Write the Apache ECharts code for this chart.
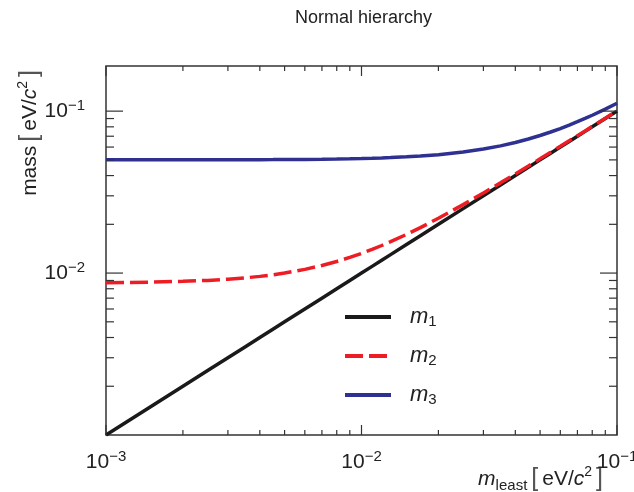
<!DOCTYPE html>
<html><head><meta charset="utf-8">
<script src="https://cdn.jsdelivr.net/npm/echarts@6/dist/echarts.min.js"></script>
<style>html,body{margin:0;padding:0;background:#fff}#c{width:634px;height:492px}</style>
</head><body><div id="c"></div>
<script>
// lightest neutrino mass (x) [eV/c^2]
const mLeast = [0.001, 0.0015, 0.002, 0.0025, 0.003, 0.0035, 0.004, 0.0045, 0.005, 0.006, 0.007, 0.008, 0.009, 0.01, 0.011, 0.012, 0.013, 0.015, 0.017, 0.02, 0.025, 0.03, 0.035, 0.04, 0.045, 0.05, 0.055, 0.06, 0.065, 0.07, 0.075, 0.08, 0.09, 0.1];
const m1 = [0.001, 0.0015, 0.002, 0.0025, 0.003, 0.0035, 0.004, 0.0045, 0.005, 0.006, 0.007, 0.008, 0.009, 0.01, 0.011, 0.012, 0.013, 0.015, 0.017, 0.02, 0.025, 0.03, 0.035, 0.04, 0.045, 0.05, 0.055, 0.06, 0.065, 0.07, 0.075, 0.08, 0.09, 0.1];
const m2 = [0.00872, 0.00879, 0.00889, 0.00901, 0.00917, 0.00934, 0.00954, 0.00976, 0.01000, 0.01054, 0.01114, 0.01179, 0.01249, 0.01323, 0.01400, 0.01480, 0.01562, 0.01732, 0.01908, 0.02179, 0.02646, 0.03122, 0.03606, 0.04093, 0.04583, 0.05074, 0.05568, 0.06062, 0.06557, 0.07053, 0.07550, 0.08047, 0.09042, 0.10037];
const m3 = [0.05001, 0.05002, 0.05004, 0.05006, 0.05009, 0.05012, 0.05016, 0.05020, 0.05025, 0.05036, 0.05049, 0.05064, 0.05080, 0.05099, 0.05120, 0.05142, 0.05166, 0.05220, 0.05281, 0.05385, 0.05590, 0.05831, 0.06103, 0.06403, 0.06727, 0.07071, 0.07433, 0.07810, 0.08201, 0.08602, 0.09014, 0.09434, 0.10296, 0.11180];
const seriesNames = ['m1', 'm2', 'm3'];
const xMajorTicks = [0.001, 0.01, 0.1];
const xMinorTicks = [0.002, 0.003, 0.004, 0.005, 0.006, 0.007, 0.008, 0.009, 0.02, 0.03, 0.04, 0.05, 0.06, 0.07, 0.08, 0.09];
const yMajorTicks = [0.01, 0.1];
const yMinorTicks = [0.002, 0.003, 0.004, 0.005, 0.006, 0.007, 0.008, 0.009, 0.02, 0.03, 0.04, 0.05, 0.06, 0.07, 0.08, 0.09];
const X_MIN = 0.001, X_MAX = 0.1, Y_MIN = 0.001, Y_MAX = 0.19;

const FONT = "'Liberation Sans', Arial, sans-serif";
const TXT = '#222';
const labelRich = {
  b: { fontSize: 21, fontFamily: FONT, color: TXT, lineHeight: 26 },
  s: { fontSize: 15, fontFamily: FONT, color: TXT, verticalAlign: 'top' }
};
function powLabel(v, skip) {
  const l = Math.log10(v), e = Math.round(l);
  if (Math.abs(l - e) > 1e-6 || skip.indexOf(e) >= 0) return '';
  return '{b|10}{s|\u2212' + (-e) + '}';
}
const nameRich = {
  i: { fontSize: 21, fontStyle: 'italic', fontFamily: FONT, color: TXT, lineHeight: 28 },
  r: { fontSize: 21, fontFamily: FONT, color: TXT, lineHeight: 28 },
  t: { fontSize: 25, fontFamily: FONT, color: '#555', lineHeight: 28, padding: [0, 4, 0, 4] },
  sub: { fontSize: 15, fontFamily: FONT, color: TXT, verticalAlign: 'bottom' },
  sup: { fontSize: 14, fontFamily: FONT, color: TXT, verticalAlign: 'top' }
};

function tickSeries(vals, isX, major) {
  return {
    type: 'custom', coordinateSystem: 'cartesian2d', silent: true, z: 10,
    data: vals.map(v => isX ? [v, Y_MIN] : [X_MIN, v]),
    renderItem: function (params, api) {
      const st = { stroke: '#333', lineWidth: 1.2 };
      if (isX) {
        const v = api.value(0);
        const b = api.coord([v, Y_MIN]), t = api.coord([v, Y_MAX]);
        const L = major ? 10 : 5;
        return { type: 'group', children: [
          { type: 'line', shape: { x1: b[0], y1: b[1], x2: b[0], y2: b[1] - L }, style: st },
          { type: 'line', shape: { x1: t[0], y1: t[1], x2: t[0], y2: t[1] + L }, style: st }
        ] };
      } else {
        const v = api.value(1);
        const l = api.coord([X_MIN, v]), r = api.coord([X_MAX, v]);
        const L = major ? 17 : 8;
        return { type: 'group', children: [
          { type: 'line', shape: { x1: l[0], y1: l[1], x2: l[0] + L, y2: l[1] }, style: st },
          { type: 'line', shape: { x1: r[0], y1: r[1], x2: r[0] - L, y2: r[1] }, style: st }
        ] };
      }
    }
  };
}

const chart = echarts.init(document.getElementById('c'), null, { renderer: 'canvas' });
chart.setOption({
  animation: false,
  backgroundColor: '#fff',
  title: {
    text: 'Normal hierarchy', left: 290, top: 4,
    textStyle: { fontSize: 18, fontWeight: 'normal', fontFamily: FONT, color: TXT }
  },
  grid: { left: 106, right: 17, top: 66, bottom: 57, show: true, borderColor: '#333', borderWidth: 1.5, containLabel: false, outerBoundsMode: 'none' },
  legend: {
    data: seriesNames, orient: 'vertical', left: 343, top: 306, padding: 0,
    itemWidth: 46, itemHeight: 2, itemGap: 16,
    lineStyle: { width: 4 },
    itemStyle: { opacity: 0 },
    formatter: function (n) { return '{m|m}{s|' + n.slice(1) + '}'; },
    textStyle: {
      rich: {
        m: { fontSize: 22, fontStyle: 'italic', fontFamily: FONT, color: TXT, lineHeight: 24, padding: [0, 0, 0, 14] },
        s: { fontSize: 15, fontFamily: FONT, color: TXT, verticalAlign: 'bottom' }
      }
    }
  },
  xAxis: {
    type: 'log', logBase: 10, min: X_MIN, max: X_MAX,
    axisLine: { show: false }, axisTick: { show: false }, splitLine: { show: false },
    axisLabel: { margin: 14, formatter: v => powLabel(v, []), rich: labelRich },
    name: '{i|m}{sub|least}{t|[}{r|eV/}{i|c}{sup|2}{t|]}',
    nameLocation: 'end', nameGap: -10, nameMoveOverlap: false,
    nameTextStyle: { align: 'right', verticalAlign: 'top', padding: [30, 0, 0, 0], rich: nameRich }
  },
  yAxis: {
    type: 'log', logBase: 10, min: Y_MIN, max: Y_MAX,
    axisLine: { show: false }, axisTick: { show: false }, splitLine: { show: false },
    axisLabel: { margin: 21, formatter: v => powLabel(v, [-3]), rich: labelRich },
    name: '{r|mass}{t|[}{r|eV/}{i|c}{sup|2}{t|]}',
    nameLocation: 'end', nameGap: 0, nameRotate: 90, nameMoveOverlap: false,
    nameTextStyle: { align: 'right', verticalAlign: 'bottom', padding: [0, 0, 62, 0], rich: nameRich }
  },
  series: [
    { name: 'm1', type: 'line', symbol: 'none', z: 2, data: mLeast.map((x, i) => [x, m1[i]]),
      lineStyle: { color: '#1a1a1a', width: 3.5 }, itemStyle: { color: '#1a1a1a' } },
    { name: 'm2', type: 'line', symbol: 'none', z: 3, data: mLeast.map((x, i) => [x, m2[i]]),
      lineStyle: { color: '#ee1d25', width: 3.5, type: [18, 6] }, itemStyle: { color: '#ee1d25' } },
    { name: 'm3', type: 'line', symbol: 'none', z: 4, data: mLeast.map((x, i) => [x, m3[i]]),
      lineStyle: { color: '#2e3192', width: 3.5 }, itemStyle: { color: '#2e3192' } },
    tickSeries(xMajorTicks, true, true),
    tickSeries(xMinorTicks, true, false),
    tickSeries(yMajorTicks, false, true),
    tickSeries(yMinorTicks, false, false)
  ]
});
</script></body></html>
